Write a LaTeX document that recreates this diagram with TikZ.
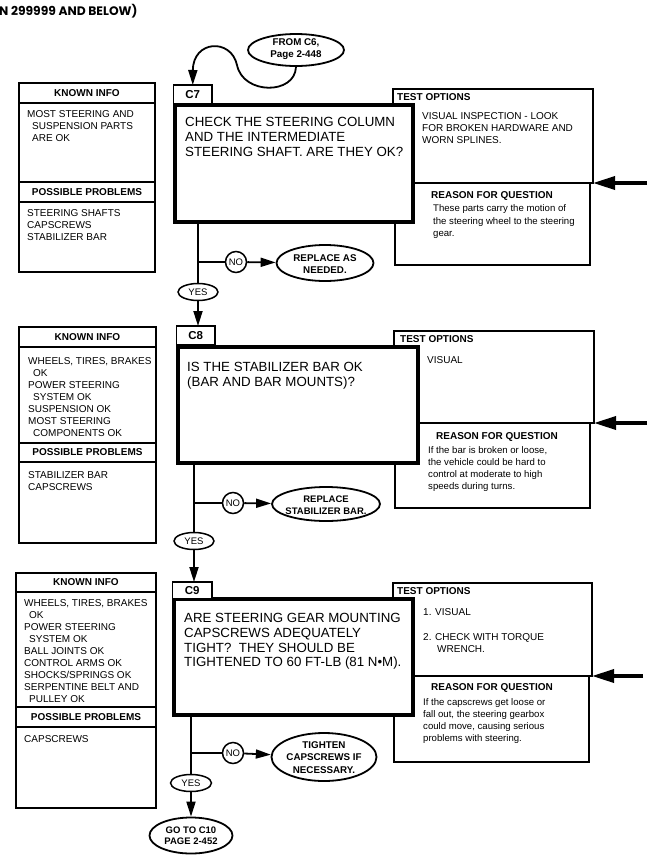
\documentclass[tikz,border=0pt]{standalone}
\usepackage{fontspec}
\setmainfont{Liberation Sans}
\newfontfamily\hdrfont{Poppins}
\usetikzlibrary{shapes.geometric,arrows.meta}
\newcommand\fsK{\fontsize{10}{12}\selectfont}
\newcommand\fsQ{\fontsize{13.3}{15}\selectfont}
\newcommand\fsR{\fontsize{9.6}{12.1}\selectfont}
\newcommand\fsE{\bfseries\fontsize{9.8}{12.5}\selectfont}
\newcommand\fsN{\fontsize{9.5}{11}\selectfont}
\begin{document}
\begin{tikzpicture}[x=1pt,y=-1pt,
  boxline/.style={line width=1.4pt},
  boxnode/.style={draw,line width=1.4pt,inner sep=0pt,outer sep=0pt,anchor=north west},
  qbox/.style={draw,line width=4pt,fill=white,inner sep=0pt,outer sep=0pt,anchor=north west},
  lblbox/.style={draw,line width=1.4pt,fill=white,inner sep=0pt,outer sep=0pt,anchor=north west,font=\bfseries\fontsize{11.5}{13}\selectfont},
  conn/.style={line width=1.8pt},
  arr/.style={line width=1.8pt,-{Triangle[length=15pt,width=9pt]}},
  bigarr/.style={line width=3.5pt,-{Triangle[length=22pt,width=13pt]}},
  txt/.style={inner sep=0pt,align=left,font=\fsK,anchor=north west},
  qtxt/.style={inner sep=0pt,align=left,font=\fsQ,anchor=north west},
  rtxt/.style={inner sep=0pt,align=left,font=\fsR,anchor=north west},
  hdr/.style={inner sep=0pt,font=\bfseries\fontsize{10}{12}\selectfont},
  oval/.style={ellipse,draw,line width=1.8pt,inner sep=0pt},
  ovaltxt/.style={inner sep=0pt,align=center,font=\fsE},
  yesoval/.style={ellipse,draw,line width=1.5pt,inner sep=0pt,font=\fsN,minimum width=40pt,minimum height=17pt},
  nocirc/.style={circle,draw,line width=1.5pt,inner sep=0pt,minimum size=21pt,font=\fsN}
]
\useasboundingbox (0,0) rectangle (659,865);

% header
\node[anchor=base west,inner sep=0pt,font=\hdrfont\bfseries\fontsize{12.3}{14}\selectfont] (title) at (-1,15) {N 299999 AND BELOW)};

% entry
\node[oval,minimum width=96pt,minimum height=32pt] (from) at (296,50) {};
\node[ovaltxt] (fromt) at (296,49) {FROM C6,\\Page 2-448};

% ================= ROW 1 =================
\draw[boxline] (19,83) rectangle (155,272);
\draw[boxline] (19,103) -- (155,103) (19,182) -- (155,182) (19,202) -- (155,202);
\node[hdr] (k1h) at (87,93) {KNOWN INFO};
\node[hdr] (p1h) at (87,192) {POSSIBLE PROBLEMS};
\node[txt] (k1t) at (27,110.4) {MOST STEERING AND\\\hspace*{5pt}SUSPENSION PARTS\\\hspace*{5pt}ARE OK};
\node[txt] (p1t) at (27,209.4) {STEERING SHAFTS\\CAPSCREWS\\STABILIZER BAR};

\node[boxnode,minimum width=200pt,minimum height=94pt] (tb1) at (393,89) {};
\node[boxnode,minimum width=195pt,minimum height=82pt] (rb1) at (395,183) {};
\node[hdr,anchor=west] (to1) at (397,97) {TEST OPTIONS};
\node[txt] (tt1) at (422,112) {VISUAL INSPECTION - LOOK\\FOR BROKEN HARDWARE AND\\WORN SPLINES.};
\node[hdr] (rh1) at (492,196) {REASON FOR QUESTION};
\node[rtxt] (rt1) at (433,204.8) {These parts carry the motion of\\the steering wheel to the steering\\gear.};

\node[qbox,minimum width=238pt,minimum height=117pt] (q1) at (175,105) {};
\node[lblbox,minimum width=38.5pt,minimum height=18.5pt] (c7) at (173.5,85) {C7};
\node[qtxt] (qt1) at (185,117.2) {CHECK THE STEERING COLUMN\\AND THE INTERMEDIATE\\STEERING SHAFT. ARE THEY OK?};

\node[yesoval] (y1) at (198,292) {YES};
\node[nocirc] (n1) at (236,262) {NO};
\node[oval,minimum width=97pt,minimum height=36pt] (o1) at (325,263) {};
\node[ovaltxt] (o1t) at (325,264) {REPLACE AS\\NEEDED.};

\draw[arr] (from.south) .. controls (295,95) and (243,95) .. (237,65) .. controls (231,38) and (193,40) .. (c7.north);
\draw[conn] (q1.south -| y1) -- (y1.north);
\draw[conn] (n1.west -| y1) -- (n1.west);
\draw[arr] (n1) -- (o1);
\coordinate (e1) at (647,183);
\draw[bigarr] (e1) -- (tb1.south east);

% ================= ROW 2 =================
\draw[boxline] (19,327) rectangle (156,543);
\draw[boxline] (19,347) -- (156,347) (19,443) -- (156,443) (19,462) -- (156,462);
\node[hdr] (k2h) at (87.5,337) {KNOWN INFO};
\node[hdr] (p2h) at (87.5,452.5) {POSSIBLE PROBLEMS};
\node[txt] (k2t) at (28,357.4) {WHEELS, TIRES, BRAKES\\\hspace*{5pt}OK\\POWER STEERING\\\hspace*{5pt}SYSTEM OK\\SUSPENSION OK\\MOST STEERING\\\hspace*{5pt}COMPONENTS OK};
\node[txt] (p2t) at (28,471.4) {STABILIZER BAR\\CAPSCREWS};

\node[boxnode,minimum width=200pt,minimum height=92pt] (tb2) at (394,331) {};
\node[boxnode,minimum width=195pt,minimum height=85pt] (rb2) at (395,423) {};
\node[hdr,anchor=west] (to2) at (400,339) {TEST OPTIONS};
\node[txt] (tt2) at (427,356.4) {VISUAL};
\node[hdr] (rh2) at (497,437) {REASON FOR QUESTION};
\node[rtxt] (rt2) at (428,446.5) {If the bar is broken or loose,\\the vehicle could be hard to\\control at moderate to high\\speeds during turns.};

\node[qbox,minimum width=240pt,minimum height=116pt] (q2) at (178,347) {};
\node[lblbox,minimum width=38.5pt,minimum height=19pt] (c8) at (176.5,326) {C8};
\node[qtxt] (qt2) at (187,362.2) {IS THE STABILIZER BAR OK\\(BAR AND BAR MOUNTS)?};

\node[yesoval] (y2) at (194,541) {YES};
\node[nocirc] (n2) at (233,503) {NO};
\node[oval,minimum width=108pt,minimum height=34pt] (o2) at (326,504) {};
\node[ovaltxt,font=\bfseries\fontsize{9.5}{12.5}\selectfont] (o2t) at (326,505) {REPLACE\\STABILIZER BAR.};

\draw[arr] (y1.south) -- (y1.south |- c8.north);
\draw[conn] (q2.south -| y2) -- (y2.north);
\draw[conn] (n2.west -| y2) -- (n2.west);
\draw[arr] (n2) -- (o2);
\coordinate (e2) at (647,423);
\draw[bigarr] (e2) -- (tb2.south east);

% ================= ROW 3 =================
\draw[boxline] (16,573) rectangle (156,808);
\draw[boxline] (16,592) -- (156,592) (16,707) -- (156,707) (16,727) -- (156,727);
\node[hdr] (k3h) at (86,582.5) {KNOWN INFO};
\node[hdr] (p3h) at (86,717) {POSSIBLE PROBLEMS};
\node[txt] (k3t) at (24,599.4) {WHEELS, TIRES, BRAKES\\\hspace*{5pt}OK\\POWER STEERING\\\hspace*{5pt}SYSTEM OK\\BALL JOINTS OK\\CONTROL ARMS OK\\SHOCKS/SPRINGS OK\\SERPENTINE BELT AND\\\hspace*{5pt}PULLEY OK};
\node[txt] (p3t) at (24,735.4) {CAPSCREWS};

\node[boxnode,minimum width=199pt,minimum height=93pt] (tb3) at (393,583) {};
\node[boxnode,minimum width=195pt,minimum height=86pt] (rb3) at (394,676) {};
\node[hdr,anchor=west] (to3) at (397,591) {TEST OPTIONS};
\node[txt] (tt3a) at (423,608.4) {1. VISUAL};
\node[txt,font=\fontsize{10}{11.5}\selectfont] (tt3b) at (423,633.4) {2. CHECK WITH TORQUE\\\hspace*{14pt}WRENCH.};
\node[hdr] (rh3) at (492,688) {REASON FOR QUESTION};
\node[rtxt] (rt3) at (423,698.5) {If the capscrews get loose or\\fall out, the steering gearbox\\could move, causing serious\\problems with steering.};

\node[qbox,minimum width=239pt,minimum height=116pt] (q3) at (174,599) {};
\node[lblbox,minimum width=39.5pt,minimum height=17pt] (c9) at (172.5,582) {C9};
\node[qtxt,font=\fontsize{13.3}{14.7}\selectfont] (qt3) at (184,613.2) {ARE STEERING GEAR MOUNTING\\CAPSCREWS ADEQUATELY\\TIGHT?\ \ THEY SHOULD BE\\TIGHTENED TO 60 FT-LB (81 N•M).};

\node[yesoval,minimum width=41pt] (y3) at (191,783) {YES};
\node[nocirc] (n3) at (233,753) {NO};
\node[oval,minimum width=105pt,minimum height=48pt] (o3) at (324,757) {};
\node[ovaltxt] (o3t) at (324,757.5) {TIGHTEN\\CAPSCREWS IF\\NECESSARY.};
\node[oval,minimum width=83pt,minimum height=36pt] (go) at (191,835.5) {};
\node[ovaltxt,font=\bfseries\fontsize{9.5}{11}\selectfont] (got) at (191,836) {GO TO C10\\PAGE 2-452};

\draw[arr] (y2.south) -- (y2.south |- c9.north);
\draw[conn] (q3.south -| y3) -- (y3.north);
\draw[conn] (n3.west -| y3) -- (n3.west);
\draw[arr] (n3) -- (o3);
\draw[arr] (y3.south) -- (go.north);
\coordinate (e3) at (643,676);
\draw[bigarr] (e3) -- (tb3.south east);
\end{tikzpicture}
\end{document}
